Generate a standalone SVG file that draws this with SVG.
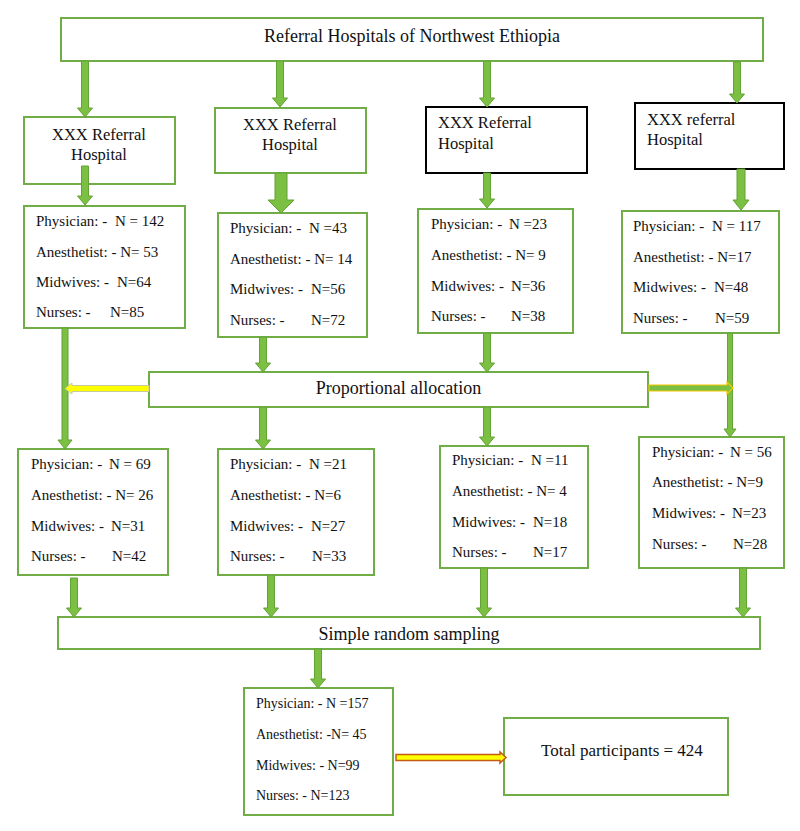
<svg xmlns="http://www.w3.org/2000/svg" width="800" height="831" viewBox="0 0 800 831">
<style>
.bx{fill:#fff;stroke:#70AD47;stroke-width:2}
.bk{fill:#fff;stroke:#000;stroke-width:2}
.t{font-family:"Liberation Serif","Times New Roman",serif;fill:#111}
.s15{font-size:15px}
.s14{font-size:14px}
.h{font-size:16.5px}
.big{font-size:18px}
.ga{fill:#7CC043;stroke:#62A236;stroke-width:1}
.ya{fill:#FFFF00;stroke:#C8C8A0;stroke-width:1}
.gy{fill:#7CC043;stroke:#F2C500;stroke-width:1.2}
.yo{fill:#FFFF00;stroke:#C55A11;stroke-width:1.5}
</style>
<rect width="800" height="831" fill="#fff"/>

<g id="top">
<rect class="bx" x="61" y="18" width="702" height="43"/>
<text class="t big" x="264" y="42">Referral Hospitals of Northwest Ethiopia</text>
</g>

<g id="hosp1">
<rect class="bx" x="24" y="117" width="151" height="67"/>
<text class="t h" x="99" y="140" text-anchor="middle">XXX Referral</text>
<text class="t h" x="99" y="160" text-anchor="middle">Hospital</text>
</g>
<g id="hosp2">
<rect class="bx" x="215" y="108" width="151" height="65"/>
<text class="t h" x="290" y="130" text-anchor="middle">XXX Referral</text>
<text class="t h" x="290" y="150" text-anchor="middle">Hospital</text>
</g>
<g id="hosp3">
<rect class="bk" x="426" y="107" width="161" height="66"/>
<text class="t h" x="438" y="128">XXX Referral</text>
<text class="t h" x="438" y="149">Hospital</text>
</g>
<g id="hosp4">
<rect class="bk" x="635" y="103" width="149" height="66"/>
<text class="t h" x="647" y="125">XXX referral</text>
<text class="t h" x="647" y="145">Hospital</text>
</g>

<g id="staff1">
<rect class="bx" x="24" y="206" width="161" height="122"/>
<text class="t s15" x="36" y="226">Physician: -<tspan x="115">N = 142</tspan></text>
<text class="t s15" x="36" y="257">Anesthetist: - N= 53</text>
<text class="t s15" x="36" y="287">Midwives: -<tspan x="117">N=64</tspan></text>
<text class="t s15" x="36" y="317">Nurses: -<tspan x="110">N=85</tspan></text>
</g>
<g id="staff2">
<rect class="bx" x="218" y="213" width="149" height="124"/>
<text class="t s15" x="230" y="233">Physician: -<tspan x="309">N =43</tspan></text>
<text class="t s15" x="230" y="264">Anesthetist: - N= 14</text>
<text class="t s15" x="230" y="294">Midwives: -<tspan x="311">N=56</tspan></text>
<text class="t s15" x="230" y="325">Nurses: -<tspan x="311">N=72</tspan></text>
</g>
<g id="staff3">
<rect class="bx" x="418" y="209" width="155" height="124"/>
<text class="t s15" x="431" y="229">Physician: -<tspan x="509">N =23</tspan></text>
<text class="t s15" x="431" y="260">Anesthetist: - N= 9</text>
<text class="t s15" x="431" y="291">Midwives: -<tspan x="511">N=36</tspan></text>
<text class="t s15" x="431" y="321">Nurses: -<tspan x="511">N=38</tspan></text>
</g>
<g id="staff4">
<rect class="bx" x="622" y="211" width="157" height="122"/>
<text class="t s15" x="633" y="231">Physician: -<tspan x="712">N = 117</tspan></text>
<text class="t s15" x="633" y="262">Anesthetist: - N=17</text>
<text class="t s15" x="633" y="292">Midwives: -<tspan x="714">N=48</tspan></text>
<text class="t s15" x="633" y="323">Nurses: -<tspan x="715">N=59</tspan></text>
</g>

<g id="prop">
<rect class="bx" x="149" y="372" width="499" height="35"/>
<text class="t big" x="398.5" y="394" text-anchor="middle">Proportional allocation</text>
</g>

<g id="sample1">
<rect class="bx" x="18" y="449" width="150" height="126"/>
<text class="t s15" x="31" y="469">Physician: -<tspan x="109">N = 69</tspan></text>
<text class="t s15" x="31" y="500">Anesthetist: - N= 26</text>
<text class="t s15" x="31" y="531">Midwives: -<tspan x="111">N=31</tspan></text>
<text class="t s15" x="31" y="561">Nurses: -<tspan x="112">N=42</tspan></text>
</g>
<g id="sample2">
<rect class="bx" x="218" y="449" width="156" height="126"/>
<text class="t s15" x="230" y="469">Physician: -<tspan x="309">N =21</tspan></text>
<text class="t s15" x="230" y="500">Anesthetist: - N=6</text>
<text class="t s15" x="230" y="531">Midwives: -<tspan x="311">N=27</tspan></text>
<text class="t s15" x="230" y="561">Nurses: -<tspan x="312">N=33</tspan></text>
</g>
<g id="sample3">
<rect class="bx" x="440" y="446" width="148" height="122"/>
<text class="t s15" x="452" y="465">Physician: -<tspan x="531">N =11</tspan></text>
<text class="t s15" x="452" y="496">Anesthetist: - N= 4</text>
<text class="t s15" x="452" y="527">Midwives: -<tspan x="533">N=18</tspan></text>
<text class="t s15" x="452" y="557">Nurses: -<tspan x="533">N=17</tspan></text>
</g>
<g id="sample4">
<rect class="bx" x="639" y="437" width="145" height="131"/>
<text class="t s15" x="652" y="457">Physician: -<tspan x="730">N = 56</tspan></text>
<text class="t s15" x="652" y="487">Anesthetist: - N=9</text>
<text class="t s15" x="652" y="518">Midwives: -<tspan x="732">N=23</tspan></text>
<text class="t s15" x="652" y="549">Nurses: -<tspan x="733">N=28</tspan></text>
</g>

<g id="srs">
<rect class="bx" x="58" y="617" width="702" height="32"/>
<text class="t big" x="409" y="640" text-anchor="middle">Simple random sampling</text>
</g>

<g id="final">
<rect class="bx" x="244" y="688" width="149" height="127"/>
<text class="t s14" x="256" y="708">Physician: - N =157</text>
<text class="t s14" x="256" y="739">Anesthetist: -N= 45</text>
<text class="t s14" x="256" y="770">Midwives: - N=99</text>
<text class="t s14" x="256" y="800">Nurses: - N=123</text>
</g>

<g id="total">
<rect class="bx" x="504" y="718" width="224" height="77"/>
<text class="t" style="font-size:17px" x="541" y="756">Total participants = 424</text>
</g>

<g id="connectors">
<!-- top to hospitals -->
<path class="ga" d="M81.5 61H88.5V108H92.5L85 117L77.5 108H81.5Z"/>
<path class="ga" d="M276.5 61H283.5V98H287.5L280 107L272.5 98H276.5Z"/>
<path class="ga" d="M483.5 61H490.5V98H494.5L487 107L479.5 98H483.5Z"/>
<path class="ga" d="M733.5 62H740.5V94H744.5L737 103L729.5 94H733.5Z"/>
<!-- hospitals to staff -->
<path class="ga" d="M81.5 166H88.5V196H92.5L85 205L77.5 196H81.5Z"/>
<path class="ga" d="M275 173H287V200H294L281 213L268 200H275Z"/>
<path class="ga" d="M483.5 173H490.5V199H494.5L487 208L479.5 199H483.5Z"/>
<path class="ga" d="M737 169H745V200H749L741 210L733 200H737Z"/>
<!-- staff to proportional / samples -->
<path class="ga" d="M62 328H68V440H72L65 449L58 440H62Z"/>
<path class="ga" d="M259.5 337H266.5V363H270.5L263 372L255.5 363H259.5Z"/>
<path class="ga" d="M483.5 333H490.5V363H494.5L487 372L479.5 363H483.5Z"/>
<path class="ga" d="M727.5 333H732.5V429H736L730 437L724 429H727.5Z"/>
<!-- proportional side arrows -->
<path class="ya" d="M149 385.5V391.5H72V394L65 388.5L72 383V385.5Z"/>
<path class="gy" d="M649 385V391H727V394L733 388L727 382V385Z"/>
<!-- proportional to samples -->
<path class="ga" d="M259.5 407H266.5V440H270.5L263 449L255.5 440H259.5Z"/>
<path class="ga" d="M483.5 407H490.5V437H494.5L487 446L479.5 437H483.5Z"/>
<!-- samples to SRS -->
<path class="ga" d="M70.5 578H77.5V608H81.5L74 617L66.5 608H70.5Z"/>
<path class="ga" d="M267.5 575H274.5V608H278.5L271 617L263.5 608H267.5Z"/>
<path class="ga" d="M480.5 568H487.5V608H491.5L484 617L476.5 608H480.5Z"/>
<path class="ga" d="M739.5 568H746.5V608H750.5L743 617L735.5 608H739.5Z"/>
<!-- SRS to final -->
<path class="ga" d="M314.5 649H321.5V679H325.5L318 688L310.5 679H314.5Z"/>
<!-- final to total -->
<path class="yo" d="M396 754.5H500V752L506 757.5L500 763V760.5H396Z"/>
</g>
</svg>
